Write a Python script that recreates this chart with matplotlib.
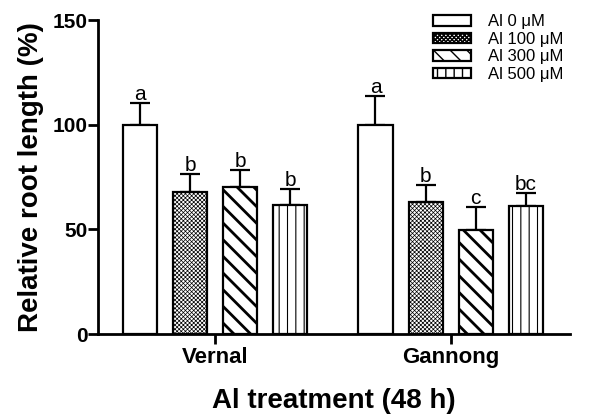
import matplotlib
matplotlib.use("Agg")
import matplotlib.pyplot as plt
import numpy as np
from matplotlib.patches import Patch

plt.rcParams['font.family'] = ['Liberation Sans', 'DejaVu Sans']

cultivars = ["Vernal", "Gannong"]
treatments = ["Al 0 μM", "Al 100 μM", "Al 300 μM", "Al 500 μM"]
means = {
    "Vernal": [100, 67.7, 70.1, 61.6],
    "Gannong": [100, 63.2, 49.7, 61.2],
}
errs = {
    "Vernal": [10.5, 8.6, 8.3, 7.8],
    "Gannong": [13.9, 8.0, 10.8, 6.3],
}
letters = {
    "Vernal": ["a", "b", "b", "b"],
    "Gannong": ["a", "b", "c", "bc"],
}
yticks = [0, 50, 100, 150]

hatches = [None, "xxxxxxxx", "\\\\", "||"]
hatch_lw = [1.0, 0.5, 2.0, 0.8]

fig = plt.figure(figsize=(5.89, 4.17), dpi=100)
ax = fig.add_axes([0.166, 0.199, 0.802, 0.753])

group_pos = [0.0, 4.7]
offsets = [-1.5, -0.5, 0.5, 1.5]
width = 0.68

for gi, c in enumerate(cultivars):
    for ti in range(4):
        x = group_pos[gi] + offsets[ti]
        m = means[c][ti]
        e = errs[c][ti]
        b = ax.bar(x, m, width=width, facecolor="white", edgecolor="black",
                   linewidth=1.6, hatch=hatches[ti], zorder=2)
        for p in b:
            try:
                p.set_hatch_linewidth(hatch_lw[ti])
            except Exception:
                pass
        ax.errorbar(x, m, yerr=[[0], [e]], fmt="none", ecolor="black",
                    elinewidth=1.6, capsize=7.5, capthick=1.6, zorder=1)
        ax.text(x, m + e - 0.5, letters[c][ti], ha="center", va="bottom",
                fontsize=15)

ax.set_xlim(-2.35, 7.09)
ax.set_ylim(0, 150)
ax.set_yticks(yticks)
ax.set_yticklabels([str(t) for t in yticks], fontsize=15, fontweight="bold")
ax.set_xticks(group_pos)
ax.set_xticklabels(cultivars, fontsize=16, fontweight="bold")
ax.spines["top"].set_visible(False)
ax.spines["right"].set_visible(False)
for s in ["left", "bottom"]:
    ax.spines[s].set_linewidth(2)
ax.tick_params(axis="both", width=2, length=7, direction="out")
ax.tick_params(axis="y", pad=0.5)
ax.tick_params(axis="x", pad=2)
ax.set_ylabel("Relative root length (%)", fontsize=20, fontweight="bold", labelpad=6)
ax.set_xlabel("Al treatment (48 h)", fontsize=20, fontweight="bold", labelpad=15)

handles = []
for ti in range(4):
    hp = Patch(facecolor="white", edgecolor="black", linewidth=1.6,
               hatch=hatches[ti], label=treatments[ti])
    handles.append(hp)
leg = fig.legend(handles=handles, loc="upper left", bbox_to_anchor=(0.735, 0.966),
                 frameon=False, fontsize=12, handlelength=2.3, handleheight=0.6,
                 handletextpad=1.0, labelspacing=0.15, borderaxespad=0,
                 borderpad=0)

fig.savefig("out.png", dpi=100)
